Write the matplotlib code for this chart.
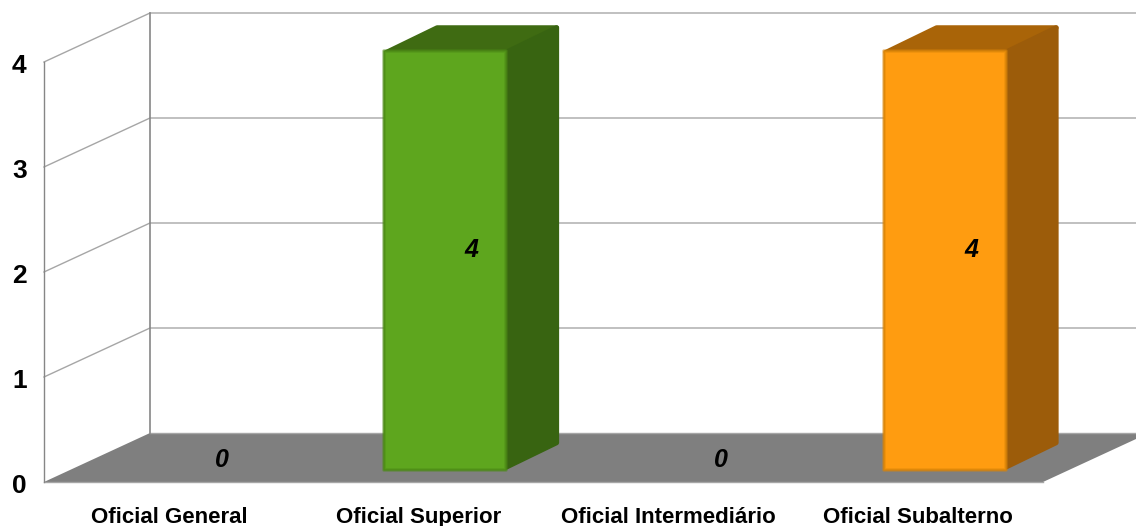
import matplotlib
matplotlib.use("Agg")
import matplotlib.pyplot as plt
from matplotlib.transforms import ScaledTranslation

categories = ["Oficial General", "Oficial Superior", "Oficial Intermediário", "Oficial Subalterno"]
values = [0, 4, 0, 4]
face_colors = ["#5ea61e", "#5ea61e", "#ff9c10", "#ff9c10"]
edge_colors = ["#4c8a16", "#4c8a16", "#d98408", "#d98408"]
top_colors = ["#3f6b12", "#3f6b12", "#a96408", "#a96408"]
side_colors = ["#386411", "#386411", "#9c5c0a", "#9c5c0a"]
y_ticks = [0, 1, 2, 3, 4]

# oblique depth of the 3D box, in data units
DEPTH_X = 106 / 249.75
DEPTH_Y = 49 / 105
BAR_HALF = 61 / 249.75
# inset so the thick round-joined outlines give soft corners
INSET_X = 2.5 / 249.75
INSET_Y = 2.5 / 105

plt.rcParams["font.family"] = ["Liberation Sans", "DejaVu Sans"]

fig = plt.figure(figsize=(11.36, 5.26), dpi=100)
ax = fig.add_axes([44 / 1136, 44 / 526, 999 / 1136, 420 / 526])
ax.set_xlim(-0.5, 3.5)
ax.set_ylim(0, 4)
for s in ax.spines.values():
    s.set_visible(False)
ax.patch.set_visible(False)

x0, x1 = -0.5, 3.5

# floor
ax.fill([x0, x1, x1 + DEPTH_X, x0 + DEPTH_X], [0, 0, DEPTH_Y, DEPTH_Y],
        color="#7f7f7f", lw=0, clip_on=False, zorder=1)
ax.plot([x0, x1], [0, 0], color="#a6a6a6", lw=1, clip_on=False, zorder=1.5)
ax.plot([x0 + DEPTH_X, x1 + DEPTH_X], [DEPTH_Y, DEPTH_Y], color="#a6a6a6", lw=1, clip_on=False, zorder=1.5)

# gridlines on the back and side walls
for v in y_ticks[1:]:
    ax.plot([x0, x0 + DEPTH_X, x1 + DEPTH_X], [v, v + DEPTH_Y, v + DEPTH_Y],
            color="#a6a6a6", lw=1, clip_on=False, zorder=2)
ax.plot([x0, x0], [0, y_ticks[-1]], color="#868686", lw=1, clip_on=False, zorder=2)
ax.plot([x0 + DEPTH_X] * 2, [DEPTH_Y, y_ticks[-1] + DEPTH_Y], color="#868686", lw=1.2, clip_on=False, zorder=2)

# bars sit in the middle half of the depth
fx, fy = DEPTH_X / 4, DEPTH_Y / 4
bx, by = DEPTH_X / 2, DEPTH_Y / 2
for i, v in enumerate(values):
    if v > 0:
        left = i - BAR_HALF + fx
        right = i + BAR_HALF + fx
        bottom = fy
        top = v + fy
        ax.fill([left + INSET_X, right, right + bx - INSET_X, left + bx],
                [top - INSET_Y, top - INSET_Y, top + by - INSET_Y, top + by - INSET_Y],
                facecolor=top_colors[i], edgecolor=top_colors[i], lw=3.6, joinstyle="round",
                clip_on=False, zorder=3)
        ax.fill([right, right + bx - INSET_X, right + bx - INSET_X, right],
                [bottom + INSET_Y, bottom + by + INSET_Y, top + by - INSET_Y, top - INSET_Y],
                facecolor=side_colors[i], edgecolor=side_colors[i], lw=3.6, joinstyle="round",
                clip_on=False, zorder=3)
        # front face with a soft darker bevel
        fxs = [left, right, right, left]
        fys = [bottom, bottom, top - INSET_Y / 2, top - INSET_Y / 2]
        ax.fill(fxs, fys, facecolor=face_colors[i], edgecolor="none", clip_on=False, zorder=4)
        ax.fill(fxs, fys, facecolor="none", edgecolor=edge_colors[i], lw=2.6, alpha=0.45,
                joinstyle="round", clip_on=False, zorder=4.1)
        ax.fill(fxs, fys, facecolor="none", edgecolor=edge_colors[i], lw=1.2, alpha=0.8,
                joinstyle="round", clip_on=False, zorder=4.2)
    # value label at the centre of the box
    ax.annotate(str(v), (i + DEPTH_X / 2, v / 2 + DEPTH_Y / 2), xytext=(0, -1.8),
                textcoords="offset points", ha="center", va="center",
                fontsize=18, fontweight="bold", fontstyle="italic", color="black", zorder=5)

ax.set_yticks(y_ticks)
ax.set_yticklabels([str(t) for t in y_ticks], fontsize=19, fontweight="bold")
ax.set_xticks(range(len(categories)))
ax.set_xticklabels(categories, fontsize=16, fontweight="bold")
ax.tick_params(axis="y", length=0, pad=12.5)
ax.tick_params(axis="x", length=0, pad=18)

# nudge the value axis labels down a little
for lab in ax.get_yticklabels():
    lab.set_transform(lab.get_transform() + ScaledTranslation(0, -1.5 / 100, fig.dpi_scale_trans))

fig.savefig("out.png", dpi=100)
plt.close(fig)
